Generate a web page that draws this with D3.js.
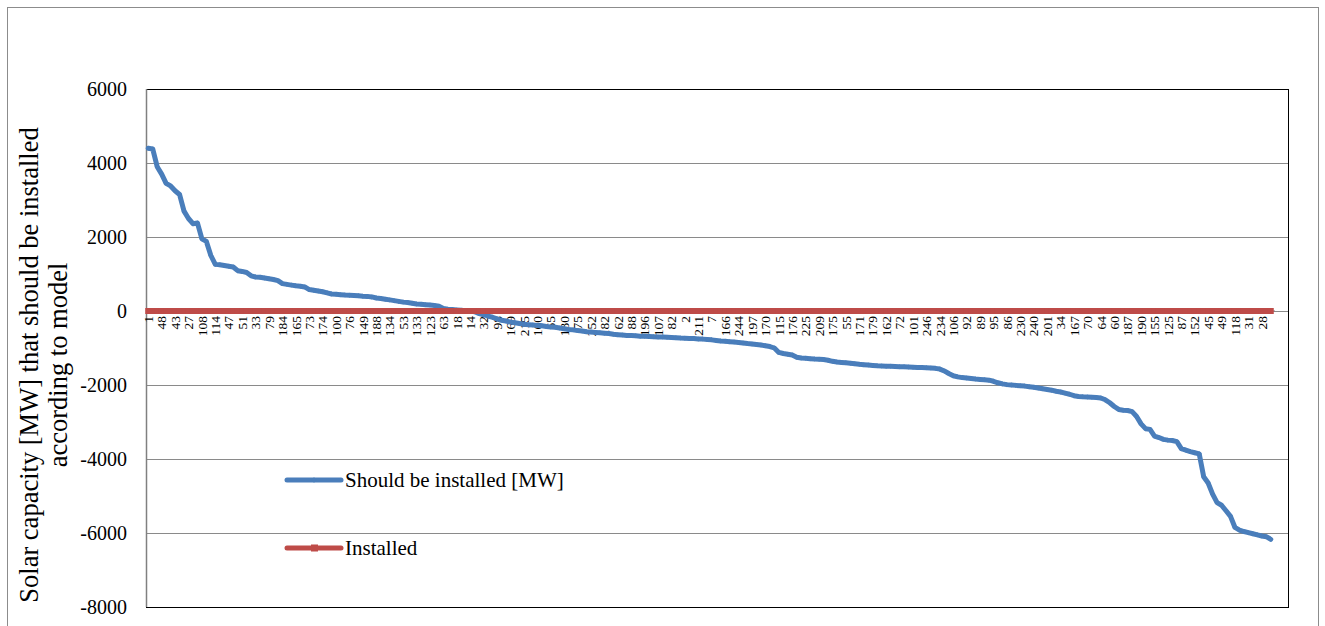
<!DOCTYPE html>
<html>
<head>
<meta charset="utf-8">
<script src="https://cdn.jsdelivr.net/npm/d3@7"></script>
<style>
  body { margin: 0; background: #fff; }
  svg text { font-family: "Liberation Serif", "Times New Roman", serif; fill: #000; }
</style>
</head>
<body>
<div id="chart"></div>
<script>
// node ids shown on the x axis (every 3rd category is labelled)
const nodeLabels = ['1','48','43','27','108','114','47','51','33','79',
  '184','165','73','174','100','76','149','188','134','53',
  '133','123','63','18','14','32','98','169','215','160',
  '65','130','75','252','182','62','88','196','107','82',
  '2','211','7','166','244','197','170','115','176','225',
  '209','175','55','171','179','162','72','101','246','234',
  '106','92','89','95','86','230','240','201','34','167',
  '70','64','60','187','190','155','125','87','152','45',
  '49','118','31','28'];

// Should be installed [MW], sorted
const shouldBeInstalled = [
  4400,4380,3900,3700,3450,3380,3250,3150,2700,2500,
  2360,2380,1950,1880,1500,1260,1250,1230,1210,1190,
  1090,1070,1040,950,920,910,890,870,850,820,
  740,720,700,680,670,650,580,560,540,520,
  490,460,450,440,430,425,420,410,400,395,
  380,350,340,320,300,280,260,240,230,210,
  190,180,170,160,150,130,70,50,40,30,
  20,10,0,-20,-70,-100,-140,-170,-210,-250,
  -270,-300,-320,-340,-360,-370,-380,-390,-400,-420,
  -430,-440,-460,-480,-500,-510,-530,-540,-560,-570,
  -580,-590,-600,-610,-630,-640,-650,-660,-665,-670,
  -680,-685,-690,-695,-700,-705,-710,-715,-720,-730,
  -735,-740,-745,-755,-760,-770,-780,-795,-810,-820,
  -830,-840,-850,-865,-880,-890,-905,-920,-940,-960,
  -1000,-1120,-1150,-1170,-1190,-1250,-1270,-1280,-1290,-1300,
  -1305,-1310,-1330,-1360,-1380,-1390,-1400,-1410,-1425,-1440,
  -1450,-1460,-1470,-1480,-1485,-1490,-1495,-1500,-1505,-1510,
  -1515,-1520,-1525,-1530,-1535,-1540,-1550,-1570,-1620,-1690,
  -1750,-1780,-1800,-1810,-1825,-1840,-1850,-1860,-1870,-1900,
  -1940,-1970,-1990,-2000,-2010,-2020,-2030,-2045,-2060,-2080,
  -2100,-2120,-2140,-2170,-2190,-2220,-2250,-2290,-2310,-2320,
  -2325,-2330,-2335,-2350,-2400,-2480,-2580,-2660,-2680,-2690,
  -2720,-2850,-3050,-3180,-3200,-3380,-3420,-3470,-3490,-3500,
  -3530,-3720,-3760,-3800,-3830,-3860,-4480,-4650,-4950,-5180,
  -5250,-5400,-5550,-5850,-5920,-5960,-5990,-6020,-6050,-6080,
  -6100,-6170];

// Installed [MW]
const installed = [
  0,0,0,0,0,0,0,0,0,0, 0,0,0,0,0,0,0,0,0,0, 0,0,0,0,0,0,0,0,0,0,
  0,0,0,0,0,0,0,0,0,0, 0,0,0,0,0,0,0,0,0,0, 0,0,0,0,0,0,0,0,0,0,
  0,0,0,0,0,0,0,0,0,0, 0,0,0,0,0,0,0,0,0,0, 0,0,0,0,0,0,0,0,0,0,
  0,0,0,0,0,0,0,0,0,0, 0,0,0,0,0,0,0,0,0,0, 0,0,0,0,0,0,0,0,0,0,
  0,0,0,0,0,0,0,0,0,0, 0,0,0,0,0,0,0,0,0,0, 0,0,0,0,0,0,0,0,0,0,
  0,0,0,0,0,0,0,0,0,0, 0,0,0,0,0,0,0,0,0,0, 0,0,0,0,0,0,0,0,0,0,
  0,0,0,0,0,0,0,0,0,0, 0,0,0,0,0,0,0,0,0,0, 0,0,0,0,0,0,0,0,0,0,
  0,0,0,0,0,0,0,0,0,0, 0,0,0,0,0,0,0,0,0,0, 0,0,0,0,0,0,0,0,0,0,
  0,0,0,0,0,0,0,0,0,0, 0,0];

const yTicks = [6000,4000,2000,0,-2000,-4000,-6000,-8000];
const labelEvery = 3;

const width = 1325, height = 626;
const plot = {left: 146, right: 1288, top: 89, bottom: 607};
const catRight = 1273; // categories stop short of the plot frame

const blue = '#4a7ebb', red = '#be4b48';

let svg = d3.select('#chart').append('svg')
  .attr('width', width)
  .attr('height', height);

// outer chart border
svg.append('rect')
  .attr('x', 7.5).attr('y', 7.5)
  .attr('width', 1311).attr('height', 640)
  .attr('fill', 'none')
  .attr('stroke', '#8c8c8c')
  .attr('stroke-width', 1);

let cats = shouldBeInstalled.map((d, i) => i);

let xScale = d3.scaleBand()
  .domain(cats)
  .range([plot.left, catRight]);
let xc = i => xScale(i) + xScale.bandwidth() / 2;

let yScale = d3.scaleLinear()
  .domain([-8000, 6000])
  .range([plot.bottom, plot.top]);

// gridlines
svg.append('g')
  .selectAll('line')
  .data(yTicks)
  .enter().append('line')
    .attr('x1', plot.left)
    .attr('x2', plot.right)
    .attr('y1', d => Math.round(yScale(d)) + 0.5)
    .attr('y2', d => Math.round(yScale(d)) + 0.5)
    .attr('stroke', '#8a8a8a')
    .attr('stroke-width', 1);

// plot frame
svg.append('rect')
  .attr('x', plot.left + 0.5)
  .attr('y', Math.round(yScale(6000)) + 0.5)
  .attr('width', plot.right - plot.left)
  .attr('height', Math.round(yScale(-8000)) - Math.round(yScale(6000)))
  .attr('fill', 'none')
  .attr('stroke', '#000')
  .attr('stroke-width', 1);

// left value axis line
svg.append('line')
  .attr('x1', plot.left + 0.5).attr('x2', plot.left + 0.5)
  .attr('y1', plot.top).attr('y2', plot.bottom)
  .attr('stroke', '#808080')
  .attr('stroke-width', 1.5);

// y tick labels
svg.append('g')
  .selectAll('text')
  .data(yTicks)
  .enter().append('text')
    .attr('x', 127)
    .attr('y', d => yScale(d))
    .attr('dy', '0.35em')
    .attr('text-anchor', 'end')
    .style('font-size', '20px')
    .text(d => d);

// y axis title (two lines)
let yTitle = svg.append('text')
  .attr('transform', 'translate(38,' + ((plot.top + plot.bottom) / 2 + 17) + ') rotate(-90)')
  .attr('text-anchor', 'middle')
  .style('font-size', '26.5px');
yTitle.append('tspan').attr('x', 0).attr('y', 0).text('Solar capacity [MW] that should be installed');
yTitle.append('tspan').attr('x', 0).attr('y', 29).text('according to model');

// x tick labels, every 3rd category
svg.append('g')
  .selectAll('text')
  .data(nodeLabels)
  .enter().append('text')
    .attr('transform', (d, i) => 'translate(' + xc(i * labelEvery) + ',' + (yScale(0) + 5) + ') rotate(-90)')
    .attr('dy', '0.35em')
    .attr('text-anchor', 'end')
    .style('font-size', '13.5px')
    .text(d => d);

// horizontal category axis at 0
svg.append('line')
  .attr('x1', plot.left).attr('x2', catRight + 2)
  .attr('y1', yScale(0)).attr('y2', yScale(0))
  .attr('stroke', '#808080')
  .attr('stroke-width', 1);

let line = d3.line()
  .x((d, i) => xc(i))
  .y(d => yScale(d));

// Should be installed series
svg.append('path')
  .datum(shouldBeInstalled)
  .attr('d', line)
  .attr('fill', 'none')
  .attr('stroke', blue)
  .attr('stroke-width', 5)
  .attr('stroke-linejoin', 'round')
  .attr('stroke-linecap', 'round');

svg.append('g')
  .selectAll('path')
  .data(shouldBeInstalled)
  .enter().append('path')
    .attr('d', d3.symbol().type(d3.symbolDiamond2).size(16))
    .attr('transform', (d, i) => 'translate(' + xc(i) + ',' + yScale(d) + ')')
    .attr('fill', blue);

// Installed series
svg.append('path')
  .datum(installed)
  .attr('d', line)
  .attr('fill', 'none')
  .attr('stroke', red)
  .attr('stroke-width', 5.5);

svg.append('g')
  .selectAll('rect')
  .data(installed)
  .enter().append('rect')
    .attr('x', (d, i) => xc(i) - 3)
    .attr('y', d => yScale(d) - 3)
    .attr('width', 6)
    .attr('height', 6)
    .attr('fill', red);

// legend
let legendItems = [
  {name: 'Should be installed [MW]', color: blue, marker: 'diamond', y: 480},
  {name: 'Installed', color: red, marker: 'square', y: 548}
];

let legend = svg.append('g');
legendItems.forEach(item => {
  legend.append('line')
    .attr('x1', 287).attr('x2', 341)
    .attr('y1', item.y).attr('y2', item.y)
    .attr('stroke', item.color)
    .attr('stroke-width', 5)
    .attr('stroke-linecap', 'round');
  if (item.marker === 'square') {
    legend.append('rect')
      .attr('x', 311).attr('y', item.y - 3.5)
      .attr('width', 7).attr('height', 7)
      .attr('fill', item.color);
  } else {
    legend.append('path')
      .attr('d', d3.symbol().type(d3.symbolDiamond2).size(20))
      .attr('transform', 'translate(314,' + item.y + ')')
      .attr('fill', item.color);
  }
  legend.append('text')
    .attr('x', 345)
    .attr('y', item.y)
    .attr('dy', '0.35em')
    .style('font-size', '21px')
    .text(item.name);
});
</script>
</body>
</html>
